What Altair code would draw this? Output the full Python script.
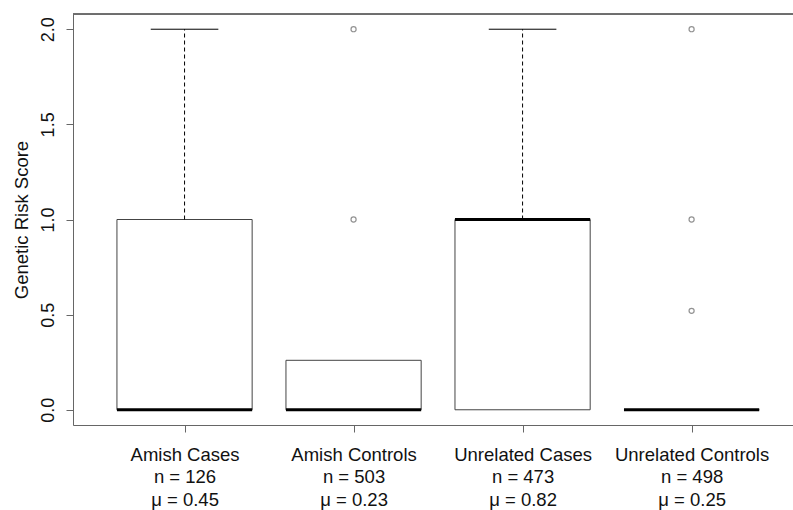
import altair as alt
import pandas as pd

groups = ["Amish Cases", "Amish Controls", "Unrelated Cases", "Unrelated Controls"]
n_vals = [126, 503, 473, 498]
mu_vals = [0.45, 0.23, 0.82, 0.25]
q1 = [0.0, 0.0, 0.0, 0.0]
median = [0.0, 0.0, 1.0, 0.0]
q3 = [1.0, 0.26, 1.0, 0.0]
whisk_lo = [0.0, 0.0, 0.0, 0.0]
whisk_hi = [2.0, 0.26, 2.0, 0.0]
out_group = ["Amish Controls", "Amish Controls", "Unrelated Controls", "Unrelated Controls", "Unrelated Controls"]
out_value = [1.0, 2.0, 0.52, 1.0, 2.0]

pos = list(range(1, len(groups) + 1))
box_df = pd.DataFrame({
    "group": groups, "pos": pos, "q1": q1, "median": median, "q3": q3,
    "lo": whisk_lo, "hi": whisk_hi,
})
out_df = pd.DataFrame({"group": out_group, "value": out_value})
out_df["pos"] = out_df["group"].map({g: p for g, p in zip(groups, pos)})

label_lists = [[g, f"n = {n}", f"\u03bc = {m:.2f}"] for g, n, m in zip(groups, n_vals, mu_vals)]
label_expr = "[" + ",".join(
    "[" + ",".join("'" + s + "'" for s in lab) + "]" for lab in label_lists
) + "][datum.value - 1]"

FONT = "Liberation Sans"
W, H = 720, 411
xscale = alt.Scale(domain=[0.34, 4.60], nice=False, zero=False)
yscale = alt.Scale(domain=[-0.08, 2.08], nice=False, zero=False)

xaxis = alt.Axis(values=pos, labelExpr=label_expr, title=None, grid=False,
                 domainColor="#666666", tickColor="#666666", tickSize=7,
                 labelFont=FONT, labelFontSize=18.5, labelColor="#111111",
                 labelLineHeight=22.5, labelPadding=13, labelBaseline="top")
yaxis = alt.Axis(values=[0, 0.5, 1, 1.5, 2], format=".1f", title="Genetic Risk Score",
                 grid=False, domainColor="#666666", tickColor="#666666", tickSize=7,
                 labelFont=FONT, labelFontSize=18, labelColor="#111111", labelAngle=270,
                 labelAlign="center", labelBaseline="bottom", labelPadding=9,
                 titleFont=FONT, titleFontSize=18.5, titleFontWeight="normal",
                 titleColor="#111111", titleX=-52, titleY=H / 2, titleAlign="center",
                 titleBaseline="middle", titleAngle=270)

base = alt.Chart(box_df)

frame_axes = base.mark_point(opacity=0).encode(
    x=alt.X("pos:Q", scale=xscale, axis=xaxis),
    y=alt.Y("median:Q", scale=yscale, axis=yaxis),
)

boxes = base.transform_calculate(
    xl="datum.pos - 0.4", xr="datum.pos + 0.4"
).mark_rect(fill="white", stroke="#444444", strokeWidth=1).encode(
    x=alt.X("xl:Q", scale=xscale), x2="xr:Q",
    y=alt.Y("q1:Q", scale=yscale), y2="q3:Q",
)

whisk_up = base.transform_filter("datum.hi > datum.q3").mark_rule(
    color="black", strokeWidth=1, strokeDash=[4, 3]
).encode(x=alt.X("pos:Q", scale=xscale), y=alt.Y("q3:Q", scale=yscale), y2="hi:Q")

caps = base.transform_filter("datum.hi > datum.q3").transform_calculate(
    cl="datum.pos - 0.2", cr="datum.pos + 0.2"
).mark_rule(color="black", strokeWidth=1).encode(
    x=alt.X("cl:Q", scale=xscale), x2="cr:Q", y=alt.Y("hi:Q", scale=yscale)
)

medians = base.transform_calculate(
    xl="datum.pos - 0.4", xr="datum.pos + 0.4"
).mark_rule(color="black", strokeWidth=3).encode(
    x=alt.X("xl:Q", scale=xscale), x2="xr:Q", y=alt.Y("median:Q", scale=yscale)
)

outliers = alt.Chart(out_df).mark_point(
    shape="circle", filled=False, size=26, stroke="#666666", strokeWidth=1.2
).encode(x=alt.X("pos:Q", scale=xscale), y=alt.Y("value:Q", scale=yscale))

top_line = base.mark_rule(color="#666666", strokeWidth=1).encode(
    x=alt.value(0), x2=alt.value(W), y=alt.value(0)
)

chart = alt.layer(frame_axes, boxes, whisk_up, caps, medians, outliers, top_line).properties(
    width=W, height=H,
    autosize=alt.AutoSizeParams(type="none"),
    padding={"left": 73, "top": 14, "right": 0, "bottom": 85},
).configure_view(stroke=None).configure(background="white")

chart.save("out.html", embed_options={"renderer": "svg", "actions": False})
